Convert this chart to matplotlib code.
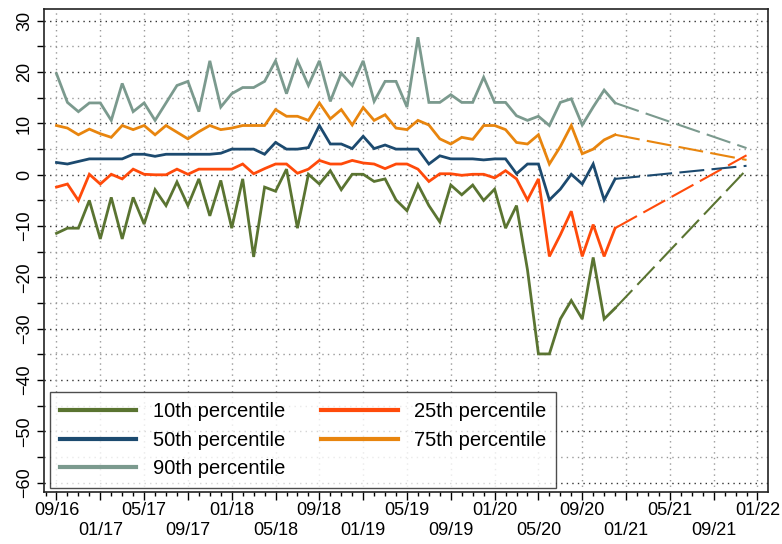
import numpy as np
import matplotlib
matplotlib.use("Agg")
import matplotlib.pyplot as plt
from matplotlib.ticker import MultipleLocator, FixedLocator

plt.rcParams["font.family"] = ["Liberation Sans", "DejaVu Sans"]

# ---------- data (monthly, starting 09/16) ----------
start_year, start_month = 2016, 9

p10 = [-11.4, -10.4, -10.4, -5.0, -12.5, -4.4, -12.5, -4.4, -9.6, -2.9,
       -6.0, -1.4, -6.0, -0.8, -8.0, -1.1, -10.4, -0.8, -16.0, -2.4,
       -3.2, 1.1, -10.4, 0.1, -1.8, 0.8, -2.9, 0.1, 0.1, -1.3,
       -0.8, -4.9, -7.0, -1.9, -6.0, -9.2, -2.0, -3.9, -2.0, -5.0,
       -2.8, -10.4, -6.0, -18.5, -34.9, -34.9, -28.1, -24.5, -28.1, -16.1,
       -28.1, -26.0]
p25 = [-2.4, -1.8, -5.0, 0.1, -1.8, 0.1, -0.8, 1.1, 0.1, 0.0,
       0.0, 1.1, 0.1, 1.1, 1.1, 1.1, 1.1, 2.1, 0.2, 1.2,
       2.1, 2.1, 0.3, 1.1, 2.8, 2.1, 2.1, 2.8, 2.3, 2.1,
       1.2, 2.1, 2.1, 1.1, -1.3, 0.2, 0.2, -0.1, 0.1, 0.1,
       -0.6, 0.8, -0.8, -4.9, -0.8, -15.9, -11.7, -7.1, -15.9, -9.7,
       -15.9, -10.4]
p50 = [2.4, 2.1, 2.6, 3.1, 3.1, 3.1, 3.1, 4.0, 4.0, 3.6,
       4.0, 4.0, 4.0, 4.0, 4.0, 4.2, 5.0, 5.0, 5.0, 4.0,
       6.3, 5.0, 5.0, 5.3, 9.6, 6.0, 6.0, 5.1, 7.5, 5.1,
       5.8, 5.0, 5.0, 5.0, 2.1, 3.7, 3.1, 3.1, 3.1, 2.9,
       3.1, 3.1, 0.2, 2.1, 2.1, -4.9, -2.8, 0.1, -1.8, 2.1,
       -4.9, -0.8]
p75 = [9.6, 9.1, 7.8, 8.9, 8.0, 7.3, 9.6, 8.8, 9.6, 7.8,
       9.6, 8.3, 7.0, 8.4, 9.6, 8.8, 9.1, 9.6, 9.6, 9.6,
       12.7, 11.4, 11.4, 10.6, 14.0, 10.9, 12.7, 9.7, 13.1, 10.6,
       11.7, 9.1, 8.8, 10.6, 9.7, 7.0, 6.0, 7.3, 6.9, 9.6,
       9.6, 8.8, 6.3, 6.0, 7.8, 2.1, 5.5, 9.6, 4.1, 5.0,
       6.8, 7.8]
p90 = [19.7, 14.1, 12.3, 14.0, 14.0, 10.6, 17.8, 12.3, 14.0, 10.6,
       14.0, 17.4, 18.2, 12.3, 22.2, 13.2, 15.8, 17.0, 17.0, 18.2,
       22.2, 15.8, 22.2, 17.4, 22.2, 14.3, 19.8, 17.4, 22.2, 14.3,
       18.2, 18.2, 13.2, 26.8, 14.1, 14.1, 15.6, 14.1, 14.1, 19.0,
       14.1, 14.1, 11.5, 10.6, 11.4, 9.6, 14.1, 14.8, 9.7, 13.2,
       16.5, 14.0]

# projected values at 12/21
proj_month = 63
proj_end = {"p10": 1.0, "p25": 3.8, "p50": 1.75, "p75": 2.9, "p90": 5.2}

series = [
    ("p10", p10, "10th percentile", "#5a7431"),
    ("p25", p25, "25th percentile", "#ff4a0a"),
    ("p50", p50, "50th percentile", "#1c4a6f"),
    ("p75", p75, "75th percentile", "#e8850e"),
    ("p90", p90, "90th percentile", "#7b9a8e"),
]

# ---------- figure ----------
fig = plt.figure(figsize=(7.82, 5.44), dpi=100)
ax = fig.add_axes([44 / 782, 1 - 492 / 544, 724 / 782, 483 / 544])

handles = {}
for key, vals, label, color in series:
    x = np.arange(len(vals))
    ln, = ax.plot(x, vals, color=color, lw=2.0, solid_joinstyle="miter", zorder=3, label=label)
    handles[key] = ln
    ax.plot([x[-1], proj_month], [vals[-1], proj_end[key]], color=color, lw=1.5,
            dashes=(12, 3.5), zorder=3)

# axes limits / ticks
ax.set_xlim(-1.14, 64.96)
ax.set_ylim(-61.8, 32.3)

n_major = 17
major_pos = [4 * k for k in range(n_major)]
labels = []
for k, m in enumerate(major_pos):
    mm = (start_month - 1 + m) % 12 + 1
    yy = (start_year + (start_month - 1 + m) // 12) % 100
    s = f"{mm:02d}/{yy:02d}"
    labels.append(s if k % 2 == 0 else "\n" + s)
ax.set_xticks(major_pos)
ax.set_xticklabels(labels, fontsize=13, linespacing=1.2)
ax.xaxis.set_minor_locator(MultipleLocator(1))
ax.tick_params(axis="x", which="major", length=6, width=1, pad=1.5)
ax.tick_params(axis="x", which="minor", length=3, width=1)

ax.set_yticks(np.arange(-60, 31, 10))
ax.yaxis.set_minor_locator(FixedLocator(np.arange(-55, 30, 10)))
ax.tick_params(axis="y", which="major", length=5, width=1, pad=3, labelsize=13)
ax.tick_params(axis="y", which="minor", length=5, width=1)
for t in ax.get_yticklabels():
    t.set_rotation(90)
    t.set_va("center")

# grid
for y in np.arange(-60, 31, 10):
    ax.axhline(y, color="#333333", lw=1, ls=(0, (1, 3)), zorder=1)
for y in np.arange(-55, 30, 10):
    ax.axhline(y, color="#999999", lw=1, ls=(0, (1, 3)), zorder=1)
for m in major_pos:
    ax.axvline(m, color="#999999", lw=1, ls=(0, (1, 3)), zorder=1)

for sp in ax.spines.values():
    sp.set_color("#222222")
    sp.set_linewidth(1.2)

# legend
order = ["p10", "p50", "p90", "p25", "p75"]
leg = ax.legend([handles[k] for k in order], [handles[k].get_label() for k in order],
                ncol=2, loc="lower left", bbox_to_anchor=(0.008, 0.008),
                borderaxespad=0, fontsize=14.5, frameon=True, fancybox=False,
                handlelength=3.8, handletextpad=0.8, columnspacing=1.8,
                labelspacing=0.47, borderpad=0.5)
leg.get_frame().set_edgecolor("#222222")
leg.get_frame().set_linewidth(1.0)
for l in leg.get_lines():
    l.set_linewidth(3)

fig.savefig("out.png", dpi=100)
